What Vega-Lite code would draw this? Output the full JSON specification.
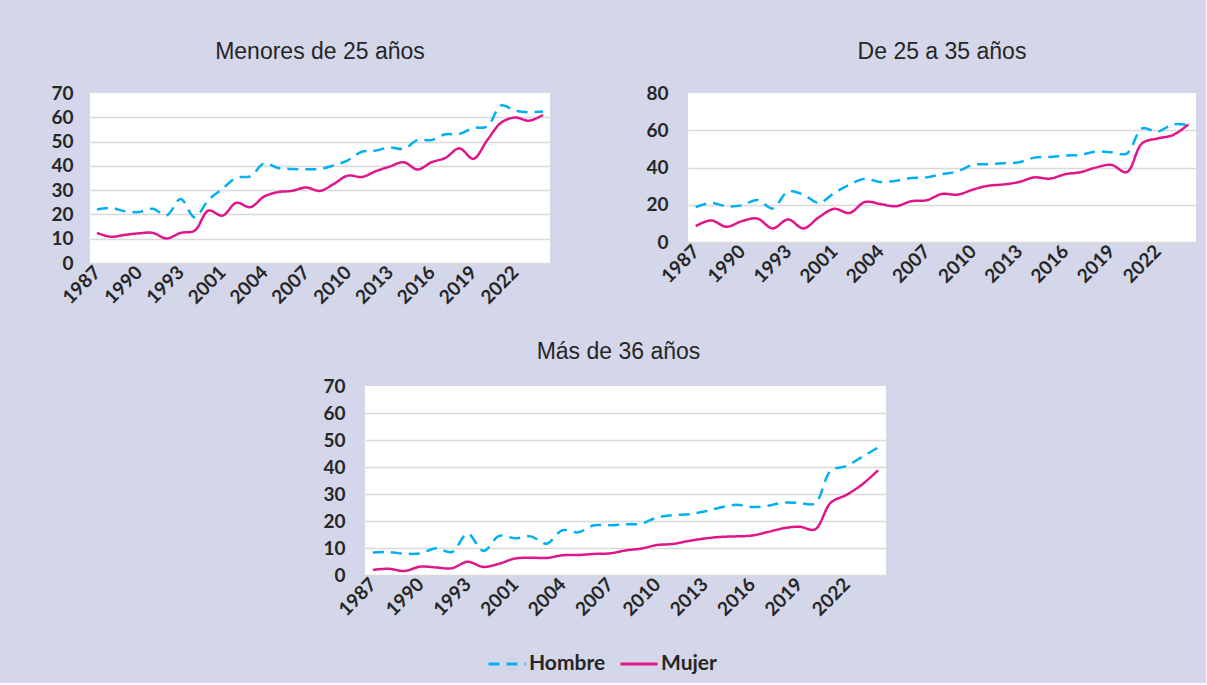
{
  "$schema": "https://vega.github.io/schema/vega-lite/v6.json",
  "background": "#D4D7EA",
  "padding": {"left": 50, "top": 41, "right": 10, "bottom": 9},
  "config": {
    "view": {"fill": "white", "stroke": null},
    "font": "Lato",
    "axis": {"labelFont": "Lato", "labelFontWeight": "bold", "labelColor": "#262626", "ticks": false, "domain": false, "title": null, "gridColor": "#D9D9D9", "gridWidth": 1.5},
    "title": {"font": "Liberation Sans", "fontSize": 23, "fontWeight": "normal", "color": "#262626", "frame": "group", "anchor": "middle"}
  },
  "datasets": {
    "d": [
      {"panel":"A","anio":"1987","sexo":"Hombre","valor":22.0},{"panel":"A","anio":"1988","sexo":"Hombre","valor":22.7},{"panel":"A","anio":"1989","sexo":"Hombre","valor":21.3},{"panel":"A","anio":"1990","sexo":"Hombre","valor":21.0},{"panel":"A","anio":"1991","sexo":"Hombre","valor":22.3},{"panel":"A","anio":"1992","sexo":"Hombre","valor":19.6},{"panel":"A","anio":"1993","sexo":"Hombre","valor":26.4},{"panel":"A","anio":"1994","sexo":"Hombre","valor":18.8},{"panel":"A","anio":"2000","sexo":"Hombre","valor":26.0},{"panel":"A","anio":"2001","sexo":"Hombre","valor":30.5},{"panel":"A","anio":"2002","sexo":"Hombre","valor":35.1},{"panel":"A","anio":"2003","sexo":"Hombre","valor":35.7},{"panel":"A","anio":"2004","sexo":"Hombre","valor":41.0},{"panel":"A","anio":"2005","sexo":"Hombre","valor":39.1},{"panel":"A","anio":"2006","sexo":"Hombre","valor":38.7},{"panel":"A","anio":"2007","sexo":"Hombre","valor":38.6},{"panel":"A","anio":"2008","sexo":"Hombre","valor":38.7},{"panel":"A","anio":"2009","sexo":"Hombre","valor":40.2},{"panel":"A","anio":"2010","sexo":"Hombre","valor":42.3},{"panel":"A","anio":"2011","sexo":"Hombre","valor":45.8},{"panel":"A","anio":"2012","sexo":"Hombre","valor":46.3},{"panel":"A","anio":"2013","sexo":"Hombre","valor":47.6},{"panel":"A","anio":"2014","sexo":"Hombre","valor":47.0},{"panel":"A","anio":"2015","sexo":"Hombre","valor":50.6},{"panel":"A","anio":"2016","sexo":"Hombre","valor":50.6},{"panel":"A","anio":"2017","sexo":"Hombre","valor":53.0},{"panel":"A","anio":"2018","sexo":"Hombre","valor":53.1},{"panel":"A","anio":"2019","sexo":"Hombre","valor":55.6},{"panel":"A","anio":"2020","sexo":"Hombre","valor":56.2},{"panel":"A","anio":"2021","sexo":"Hombre","valor":64.9},{"panel":"A","anio":"2022","sexo":"Hombre","valor":62.7},{"panel":"A","anio":"2023","sexo":"Hombre","valor":62.1},{"panel":"A","anio":"2024","sexo":"Hombre","valor":62.4},
      {"panel":"A","anio":"1987","sexo":"Mujer","valor":12.4},{"panel":"A","anio":"1988","sexo":"Mujer","valor":10.8},{"panel":"A","anio":"1989","sexo":"Mujer","valor":11.6},{"panel":"A","anio":"1990","sexo":"Mujer","valor":12.2},{"panel":"A","anio":"1991","sexo":"Mujer","valor":12.4},{"panel":"A","anio":"1992","sexo":"Mujer","valor":10.1},{"panel":"A","anio":"1993","sexo":"Mujer","valor":12.4},{"panel":"A","anio":"1994","sexo":"Mujer","valor":13.3},{"panel":"A","anio":"2000","sexo":"Mujer","valor":21.6},{"panel":"A","anio":"2001","sexo":"Mujer","valor":19.5},{"panel":"A","anio":"2002","sexo":"Mujer","valor":24.8},{"panel":"A","anio":"2003","sexo":"Mujer","valor":23.0},{"panel":"A","anio":"2004","sexo":"Mujer","valor":27.4},{"panel":"A","anio":"2005","sexo":"Mujer","valor":29.2},{"panel":"A","anio":"2006","sexo":"Mujer","valor":29.7},{"panel":"A","anio":"2007","sexo":"Mujer","valor":31.1},{"panel":"A","anio":"2008","sexo":"Mujer","valor":29.7},{"panel":"A","anio":"2009","sexo":"Mujer","valor":32.6},{"panel":"A","anio":"2010","sexo":"Mujer","valor":36.0},{"panel":"A","anio":"2011","sexo":"Mujer","valor":35.4},{"panel":"A","anio":"2012","sexo":"Mujer","valor":37.8},{"panel":"A","anio":"2013","sexo":"Mujer","valor":39.7},{"panel":"A","anio":"2014","sexo":"Mujer","valor":41.5},{"panel":"A","anio":"2015","sexo":"Mujer","valor":38.5},{"panel":"A","anio":"2016","sexo":"Mujer","valor":41.5},{"panel":"A","anio":"2017","sexo":"Mujer","valor":43.3},{"panel":"A","anio":"2018","sexo":"Mujer","valor":47.2},{"panel":"A","anio":"2019","sexo":"Mujer","valor":42.9},{"panel":"A","anio":"2020","sexo":"Mujer","valor":50.6},{"panel":"A","anio":"2021","sexo":"Mujer","valor":57.8},{"panel":"A","anio":"2022","sexo":"Mujer","valor":59.9},{"panel":"A","anio":"2023","sexo":"Mujer","valor":58.6},{"panel":"A","anio":"2024","sexo":"Mujer","valor":61.0},
      {"panel":"B","anio":"1987","sexo":"Hombre","valor":18.7},{"panel":"B","anio":"1988","sexo":"Hombre","valor":21.0},{"panel":"B","anio":"1989","sexo":"Hombre","valor":19.2},{"panel":"B","anio":"1990","sexo":"Hombre","valor":19.7},{"panel":"B","anio":"1991","sexo":"Hombre","valor":22.6},{"panel":"B","anio":"1992","sexo":"Hombre","valor":18.0},{"panel":"B","anio":"1993","sexo":"Hombre","valor":27.2},{"panel":"B","anio":"1994","sexo":"Hombre","valor":25.4},{"panel":"B","anio":"2000","sexo":"Hombre","valor":21.0},{"panel":"B","anio":"2001","sexo":"Hombre","valor":26.3},{"panel":"B","anio":"2002","sexo":"Hombre","valor":30.8},{"panel":"B","anio":"2003","sexo":"Hombre","valor":34.0},{"panel":"B","anio":"2004","sexo":"Hombre","valor":32.2},{"panel":"B","anio":"2005","sexo":"Hombre","valor":32.9},{"panel":"B","anio":"2006","sexo":"Hombre","valor":34.3},{"panel":"B","anio":"2007","sexo":"Hombre","valor":34.7},{"panel":"B","anio":"2008","sexo":"Hombre","valor":36.4},{"panel":"B","anio":"2009","sexo":"Hombre","valor":37.9},{"panel":"B","anio":"2010","sexo":"Hombre","valor":41.4},{"panel":"B","anio":"2011","sexo":"Hombre","valor":41.8},{"panel":"B","anio":"2012","sexo":"Hombre","valor":42.3},{"panel":"B","anio":"2013","sexo":"Hombre","valor":42.8},{"panel":"B","anio":"2014","sexo":"Hombre","valor":45.3},{"panel":"B","anio":"2015","sexo":"Hombre","valor":45.7},{"panel":"B","anio":"2016","sexo":"Hombre","valor":46.4},{"panel":"B","anio":"2017","sexo":"Hombre","valor":46.8},{"panel":"B","anio":"2018","sexo":"Hombre","valor":48.5},{"panel":"B","anio":"2019","sexo":"Hombre","valor":48.2},{"panel":"B","anio":"2020","sexo":"Hombre","valor":47.5},{"panel":"B","anio":"2021","sexo":"Hombre","valor":61.0},{"panel":"B","anio":"2022","sexo":"Hombre","valor":59.2},{"panel":"B","anio":"2023","sexo":"Hombre","valor":63.1},{"panel":"B","anio":"2024","sexo":"Hombre","valor":62.8},
      {"panel":"B","anio":"1987","sexo":"Mujer","valor":8.5},{"panel":"B","anio":"1988","sexo":"Mujer","valor":11.6},{"panel":"B","anio":"1989","sexo":"Mujer","valor":8.2},{"panel":"B","anio":"1990","sexo":"Mujer","valor":11.2},{"panel":"B","anio":"1991","sexo":"Mujer","valor":12.6},{"panel":"B","anio":"1992","sexo":"Mujer","valor":7.3},{"panel":"B","anio":"1993","sexo":"Mujer","valor":12.1},{"panel":"B","anio":"1994","sexo":"Mujer","valor":7.3},{"panel":"B","anio":"2000","sexo":"Mujer","valor":13.3},{"panel":"B","anio":"2001","sexo":"Mujer","valor":17.8},{"panel":"B","anio":"2002","sexo":"Mujer","valor":15.6},{"panel":"B","anio":"2003","sexo":"Mujer","valor":21.5},{"panel":"B","anio":"2004","sexo":"Mujer","valor":20.4},{"panel":"B","anio":"2005","sexo":"Mujer","valor":19.2},{"panel":"B","anio":"2006","sexo":"Mujer","valor":21.9},{"panel":"B","anio":"2007","sexo":"Mujer","valor":22.4},{"panel":"B","anio":"2008","sexo":"Mujer","valor":25.8},{"panel":"B","anio":"2009","sexo":"Mujer","valor":25.4},{"panel":"B","anio":"2010","sexo":"Mujer","valor":28.1},{"panel":"B","anio":"2011","sexo":"Mujer","valor":30.2},{"panel":"B","anio":"2012","sexo":"Mujer","valor":30.9},{"panel":"B","anio":"2013","sexo":"Mujer","valor":32.2},{"panel":"B","anio":"2014","sexo":"Mujer","valor":34.7},{"panel":"B","anio":"2015","sexo":"Mujer","valor":34.0},{"panel":"B","anio":"2016","sexo":"Mujer","valor":36.4},{"panel":"B","anio":"2017","sexo":"Mujer","valor":37.5},{"panel":"B","anio":"2018","sexo":"Mujer","valor":40.0},{"panel":"B","anio":"2019","sexo":"Mujer","valor":41.4},{"panel":"B","anio":"2020","sexo":"Mujer","valor":37.5},{"panel":"B","anio":"2021","sexo":"Mujer","valor":53.0},{"panel":"B","anio":"2022","sexo":"Mujer","valor":55.6},{"panel":"B","anio":"2023","sexo":"Mujer","valor":57.4},{"panel":"B","anio":"2024","sexo":"Mujer","valor":63.1},
      {"panel":"C","anio":"1987","sexo":"Hombre","valor":8.3},{"panel":"C","anio":"1988","sexo":"Hombre","valor":8.5},{"panel":"C","anio":"1989","sexo":"Hombre","valor":7.9},{"panel":"C","anio":"1990","sexo":"Hombre","valor":8.0},{"panel":"C","anio":"1991","sexo":"Hombre","valor":9.9},{"panel":"C","anio":"1992","sexo":"Hombre","valor":8.5},{"panel":"C","anio":"1993","sexo":"Hombre","valor":15.3},{"panel":"C","anio":"1994","sexo":"Hombre","valor":8.9},{"panel":"C","anio":"2000","sexo":"Hombre","valor":14.5},{"panel":"C","anio":"2001","sexo":"Hombre","valor":13.6},{"panel":"C","anio":"2002","sexo":"Hombre","valor":14.3},{"panel":"C","anio":"2003","sexo":"Hombre","valor":11.6},{"panel":"C","anio":"2004","sexo":"Hombre","valor":16.6},{"panel":"C","anio":"2005","sexo":"Hombre","valor":15.8},{"panel":"C","anio":"2006","sexo":"Hombre","valor":18.4},{"panel":"C","anio":"2007","sexo":"Hombre","valor":18.4},{"panel":"C","anio":"2008","sexo":"Hombre","valor":18.8},{"panel":"C","anio":"2009","sexo":"Hombre","valor":19.0},{"panel":"C","anio":"2010","sexo":"Hombre","valor":21.3},{"panel":"C","anio":"2011","sexo":"Hombre","valor":22.2},{"panel":"C","anio":"2012","sexo":"Hombre","valor":22.5},{"panel":"C","anio":"2013","sexo":"Hombre","valor":23.5},{"panel":"C","anio":"2014","sexo":"Hombre","valor":25.0},{"panel":"C","anio":"2015","sexo":"Hombre","valor":26.0},{"panel":"C","anio":"2016","sexo":"Hombre","valor":25.2},{"panel":"C","anio":"2017","sexo":"Hombre","valor":25.6},{"panel":"C","anio":"2018","sexo":"Hombre","valor":26.8},{"panel":"C","anio":"2019","sexo":"Hombre","valor":26.7},{"panel":"C","anio":"2020","sexo":"Hombre","valor":26.5},{"panel":"C","anio":"2021","sexo":"Hombre","valor":38.6},{"panel":"C","anio":"2022","sexo":"Hombre","valor":40.4},{"panel":"C","anio":"2023","sexo":"Hombre","valor":43.8},{"panel":"C","anio":"2024","sexo":"Hombre","valor":47.2},
      {"panel":"C","anio":"1987","sexo":"Mujer","valor":1.9},{"panel":"C","anio":"1988","sexo":"Mujer","valor":2.3},{"panel":"C","anio":"1989","sexo":"Mujer","valor":1.5},{"panel":"C","anio":"1990","sexo":"Mujer","valor":3.1},{"panel":"C","anio":"1991","sexo":"Mujer","valor":2.8},{"panel":"C","anio":"1992","sexo":"Mujer","valor":2.5},{"panel":"C","anio":"1993","sexo":"Mujer","valor":4.9},{"panel":"C","anio":"1994","sexo":"Mujer","valor":3.0},{"panel":"C","anio":"2000","sexo":"Mujer","valor":4.2},{"panel":"C","anio":"2001","sexo":"Mujer","valor":6.1},{"panel":"C","anio":"2002","sexo":"Mujer","valor":6.4},{"panel":"C","anio":"2003","sexo":"Mujer","valor":6.3},{"panel":"C","anio":"2004","sexo":"Mujer","valor":7.3},{"panel":"C","anio":"2005","sexo":"Mujer","valor":7.4},{"panel":"C","anio":"2006","sexo":"Mujer","valor":7.8},{"panel":"C","anio":"2007","sexo":"Mujer","valor":8.0},{"panel":"C","anio":"2008","sexo":"Mujer","valor":9.1},{"panel":"C","anio":"2009","sexo":"Mujer","valor":9.8},{"panel":"C","anio":"2010","sexo":"Mujer","valor":11.1},{"panel":"C","anio":"2011","sexo":"Mujer","valor":11.5},{"panel":"C","anio":"2012","sexo":"Mujer","valor":12.6},{"panel":"C","anio":"2013","sexo":"Mujer","valor":13.5},{"panel":"C","anio":"2014","sexo":"Mujer","valor":14.1},{"panel":"C","anio":"2015","sexo":"Mujer","valor":14.3},{"panel":"C","anio":"2016","sexo":"Mujer","valor":14.6},{"panel":"C","anio":"2017","sexo":"Mujer","valor":15.9},{"panel":"C","anio":"2018","sexo":"Mujer","valor":17.3},{"panel":"C","anio":"2019","sexo":"Mujer","valor":17.9},{"panel":"C","anio":"2020","sexo":"Mujer","valor":16.9},{"panel":"C","anio":"2021","sexo":"Mujer","valor":26.8},{"panel":"C","anio":"2022","sexo":"Mujer","valor":29.7},{"panel":"C","anio":"2023","sexo":"Mujer","valor":33.6},{"panel":"C","anio":"2024","sexo":"Mujer","valor":38.8}
    ]
  },
  "resolve": {"scale": {"color": "independent", "strokeDash": "independent"}, "legend": {"color": "independent", "strokeDash": "independent"}},
  "spacing": 33,
  "vconcat": [
    {
      "spacing": 95,
      "resolve": {"scale": {"color": "independent", "strokeDash": "independent"}, "legend": {"color": "independent", "strokeDash": "independent"}},
      "hconcat": [
        {
          "width": 460, "height": 170,
          "title": {"text": "Menores de 25 años", "offset": 20},
          "data": {"name": "d"},
          "transform": [{"filter": "datum.panel === 'A'"}],
          "mark": {"type": "line", "interpolate": "catmull-rom", "strokeWidth": 2.5},
          "encoding": {
            "x": {"field": "anio", "type": "ordinal", "sort": null, "scale": {"type": "point", "padding": 0.5},
                  "axis": {"values": ["1987","1990","1993","2001","2004","2007","2010","2013","2016","2019","2022"], "labelAngle": -45, "labelAlign": "right", "labelBaseline": "middle", "labelFontSize": 19, "labelPadding": 6, "grid": false}},
            "y": {"field": "valor", "type": "quantitative", "scale": {"domain": [0, 70]},
                  "axis": {"values": [0,10,20,30,40,50,60,70], "labelFontSize": 19, "labelPadding": 17, "gridOpacity": {"condition": {"test": "datum.value === 70", "value": 0}, "value": 1}}},
            "color": {"field": "sexo", "type": "nominal", "scale": {"domain": ["Hombre","Mujer"], "range": ["#00B0F0","#E0158A"]}, "legend": null},
            "strokeDash": {"field": "sexo", "type": "nominal", "scale": {"domain": ["Hombre","Mujer"], "range": [[11,7],[1,0]]}, "legend": null}
          }
        },
        {
          "width": 508, "height": 149,
          "title": {"text": "De 25 a 35 años", "offset": 20},
          "data": {"name": "d"},
          "transform": [{"filter": "datum.panel === 'B'"}],
          "mark": {"type": "line", "interpolate": "catmull-rom", "strokeWidth": 2.5},
          "encoding": {
            "x": {"field": "anio", "type": "ordinal", "sort": null, "scale": {"type": "point", "padding": 0.5},
                  "axis": {"values": ["1987","1990","1993","2001","2004","2007","2010","2013","2016","2019","2022"], "labelAngle": -45, "labelAlign": "right", "labelBaseline": "middle", "labelFontSize": 19, "labelPadding": 6, "grid": false}},
            "y": {"field": "valor", "type": "quantitative", "scale": {"domain": [0, 80]},
                  "axis": {"values": [0,20,40,60,80], "labelFontSize": 19, "labelPadding": 20, "gridOpacity": {"condition": {"test": "datum.value === 80", "value": 0}, "value": 1}}},
            "color": {"field": "sexo", "type": "nominal", "scale": {"domain": ["Hombre","Mujer"], "range": ["#00B0F0","#E0158A"]}, "legend": null},
            "strokeDash": {"field": "sexo", "type": "nominal", "scale": {"domain": ["Hombre","Mujer"], "range": [[11,7],[1,0]]}, "legend": null}
          }
        }
      ]
    },
    {
      "spacing": 0,
      "resolve": {"scale": {"color": "independent", "strokeDash": "independent"}, "legend": {"color": "independent", "strokeDash": "independent"}},
      "hconcat": [
        {
          "width": 232, "height": 189,
          "view": {"fill": null, "stroke": null},
          "data": {"values": [{}]},
          "mark": {"type": "point", "opacity": 0},
          "encoding": {}
        },
        {
          "width": 521, "height": 189,
          "title": {"text": "Más de 36 años", "offset": 13, "dx": -7},
          "data": {"name": "d"},
          "transform": [{"filter": "datum.panel === 'C'"}],
          "mark": {"type": "line", "interpolate": "catmull-rom", "strokeWidth": 2.5},
          "encoding": {
            "x": {"field": "anio", "type": "ordinal", "sort": null, "scale": {"type": "point", "padding": 0.5},
                  "axis": {"values": ["1987","1990","1993","2001","2004","2007","2010","2013","2016","2019","2022"], "labelAngle": -45, "labelAlign": "right", "labelBaseline": "middle", "labelFontSize": 19, "labelPadding": 6, "grid": false}},
            "y": {"field": "valor", "type": "quantitative", "scale": {"domain": [0, 70]},
                  "axis": {"values": [0,10,20,30,40,50,60,70], "labelFontSize": 19, "labelPadding": 20, "gridOpacity": {"condition": {"test": "datum.value === 70", "value": 0}, "value": 1}}},
            "color": {"field": "sexo", "type": "nominal", "scale": {"domain": ["Hombre","Mujer"], "range": ["#00B0F0","#E0158A"]},
                      "legend": {"orient": "none", "legendX": 122, "legendY": 258, "direction": "horizontal", "title": null, "symbolType": "stroke", "symbolSize": 1369, "symbolStrokeWidth": 3, "labelFont": "Lato", "labelFontSize": 21, "labelFontWeight": "bold", "labelColor": "#262626", "columnPadding": 8, "labelOffset": 2}},
            "strokeDash": {"field": "sexo", "type": "nominal", "scale": {"domain": ["Hombre","Mujer"], "range": [[11,7],[1,0]]},
                      "legend": {"orient": "none", "legendX": 122, "legendY": 258, "direction": "horizontal", "title": null, "symbolType": "stroke", "symbolSize": 1369, "symbolStrokeWidth": 3, "labelFont": "Lato", "labelFontSize": 21, "labelFontWeight": "bold", "labelColor": "#262626", "columnPadding": 8, "labelOffset": 2}}
          }
        }
      ]
    }
  ]
}
